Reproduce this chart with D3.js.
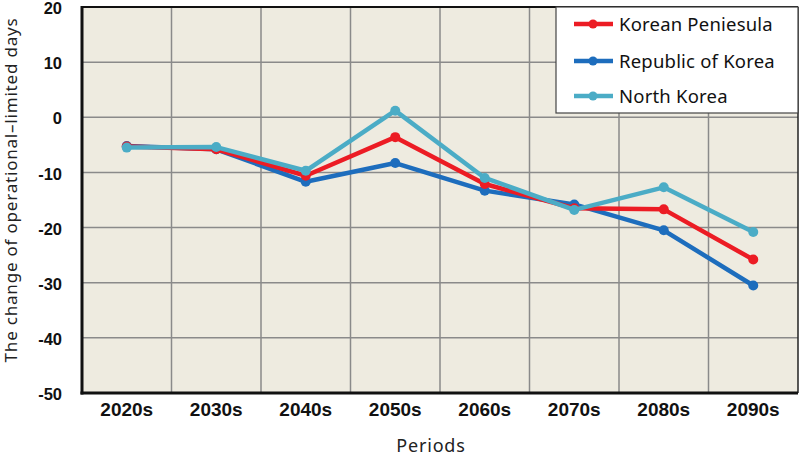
<!DOCTYPE html>
<html>
<head>
<meta charset="utf-8">
<script src="https://cdn.jsdelivr.net/npm/d3@7"></script>
<style>
  html, body { margin: 0; padding: 0; background: #fff; }
  svg { display: block; }
</style>
</head>
<body>
<svg id="chart" width="800" height="458"></svg>
<script>
const periods = ["2020s", "2030s", "2040s", "2050s", "2060s", "2070s", "2080s", "2090s"];
const seriesNames = ["Korean Peniesula", "Republic of Korea", "North Korea"];
const koreanPeninsula = [-5.3, -5.8, -10.6, -3.6, -12.1, -16.5, -16.7, -25.8];
const republicOfKorea = [-5.2, -5.8, -11.7, -8.3, -13.3, -15.8, -20.5, -30.5];
const northKorea      = [-5.5, -5.4, -9.7, 1.2, -11.0, -16.8, -12.7, -20.8];
const seriesColors = ["#ec1c24", "#1d6dbd", "#4bacc6"];
const yTicks = [20, 10, 0, -10, -20, -30, -40, -50];
const yTitle = "The change of operational\u2013limited days";
const xTitle = "Periods";

const series = [koreanPeninsula, republicOfKorea, northKorea];
const drawOrder = [1, 0, 2];

const svg = d3.select("#chart");
const L = 82, R = 798, T = 7, B = 393;

const x = d3.scaleBand().domain(periods).range([L, R]);
const y = d3.scaleLinear().domain([-50, 20]).range([B, T]);
const cx = d => x(d) + x.bandwidth() / 2;

// background
svg.append("rect").attr("x", L).attr("y", T).attr("width", R - L).attr("height", B - T)
  .attr("fill", "#eeebe0");

// grid
svg.append("g").selectAll("line").data(yTicks).join("line")
  .attr("x1", L).attr("x2", R).attr("y1", d => y(d)).attr("y2", d => y(d))
  .attr("stroke", "#8a8a8a").attr("stroke-width", 1.5);
svg.append("g").selectAll("line").data(periods.slice(1)).join("line")
  .attr("x1", d => x(d)).attr("x2", d => x(d)).attr("y1", T).attr("y2", B)
  .attr("stroke", "#8a8a8a").attr("stroke-width", 1.5);

// axes
const yAxis = d3.axisLeft(y).tickValues(yTicks).tickSize(0).tickPadding(20)
  .tickFormat(d => String(d));
const gy = svg.append("g").attr("transform", `translate(${L},0)`).call(yAxis);
gy.select(".domain").remove();
gy.selectAll("text").attr("font-family", "'Liberation Sans', Arial, sans-serif")
  .attr("font-weight", "bold").attr("font-size", 16.5).attr("fill", "#111")
  .attr("dy", "0.4em");

const xAxis = d3.axisBottom(x).tickSize(0).tickPadding(10);
const gx = svg.append("g").attr("transform", `translate(0,${B})`).call(xAxis);
gx.select(".domain").remove();
gx.selectAll("text").attr("font-family", "'Liberation Sans', Arial, sans-serif")
  .attr("font-weight", "bold").attr("font-size", 19).attr("fill", "#111");

// plot border
svg.append("line").attr("x1", L).attr("x2", R).attr("y1", T).attr("y2", T).attr("stroke", "#111").attr("stroke-width", 2);
svg.append("line").attr("x1", R).attr("x2", R).attr("y1", T).attr("y2", B).attr("stroke", "#222").attr("stroke-width", 1.5);
svg.append("line").attr("x1", L).attr("x2", L).attr("y1", T - 1).attr("y2", B + 1.5).attr("stroke", "#111").attr("stroke-width", 3);
svg.append("line").attr("x1", L - 1.5).attr("x2", R).attr("y1", B).attr("y2", B).attr("stroke", "#111").attr("stroke-width", 3);

// lines
const line = d3.line().x((d, i) => cx(periods[i])).y(d => y(d));
drawOrder.forEach(si => {
  const g = svg.append("g");
  g.append("path").datum(series[si]).attr("d", line)
    .attr("fill", "none").attr("stroke", seriesColors[si]).attr("stroke-width", 4.5)
    .attr("stroke-linejoin", "round");
  g.selectAll("circle").data(series[si]).join("circle")
    .attr("cx", (d, i) => cx(periods[i])).attr("cy", d => y(d)).attr("r", 5)
    .attr("fill", seriesColors[si]);
});

// legend
const lg = svg.append("g");
lg.append("rect").attr("x", 556).attr("y", T).attr("width", 242).attr("height", 106)
  .attr("fill", "#fff").attr("stroke", "#444").attr("stroke-width", 1.2);
const legY = [24, 61, 96];
seriesNames.forEach((name, i) => {
  lg.append("line").attr("x1", 574).attr("x2", 613).attr("y1", legY[i]).attr("y2", legY[i])
    .attr("stroke", seriesColors[i]).attr("stroke-width", 4.5);
  lg.append("circle").attr("cx", 593).attr("cy", legY[i]).attr("r", 4.5).attr("fill", seriesColors[i]);
  lg.append("text").attr("x", 619).attr("y", legY[i]).attr("dy", "0.36em")
    .attr("font-family", "'Noto Sans', sans-serif").attr("font-size", 18.5).attr("fill", "#111")
    .attr("letter-spacing", 0.2)
    .text(name);
});

// titles
svg.append("text").attr("transform", `translate(17,190) rotate(-90)`)
  .attr("text-anchor", "middle").attr("font-family", "'Noto Sans', sans-serif")
  .attr("font-size", 17).attr("fill", "#222").attr("letter-spacing", 0.8).text(yTitle);
svg.append("text").attr("x", 431).attr("y", 452).attr("text-anchor", "middle")
  .attr("font-family", "'Noto Sans', sans-serif").attr("font-size", 18).attr("fill", "#222")
  .attr("letter-spacing", 0.8)
  .text(xTitle);
</script>
</body>
</html>
